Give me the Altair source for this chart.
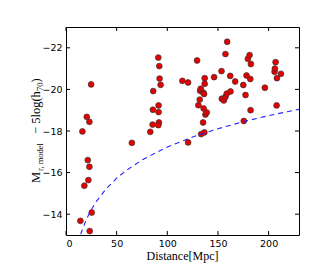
import altair as alt
import pandas as pd

# Galaxy sample: distance [Mpc] and absolute magnitude
distance = [14.2, 16.2, 18.1, 20.5, 21.5, 22.1, 23.1, 23.1, 23.4, 24.8, 25.4, 65.0,
            83.2, 85.5, 85.8, 86.1, 91.1, 92.1, 92.4, 93.4, 91.4, 91.4, 91.7, 91.1,
            114.9, 120.5, 120.5, 129.4, 130.7, 132.0, 132.4, 133.0, 133.4, 135.3,
            135.6, 136.3, 135.9, 136.6, 136.9, 136.9, 137.6, 138.9, 146.2, 153.5,
            153.8, 155.8, 157.4, 157.4, 158.7, 159.1, 162.1, 162.4, 167.0, 175.0,
            175.5, 177.2, 178.2, 179.5, 181.2, 181.9, 182.2, 182.5, 196.3, 205.9,
            206.2, 206.9, 207.9, 208.2, 212.2]
magnitude = [-13.68, -17.98, -15.37, -18.68, -16.60, -15.64, -18.44, -16.28, -13.19, -20.24, -14.08, -17.43,
             -17.96, -18.31, -19.02, -19.92, -21.53, -21.12, -20.52, -20.22, -19.23, -18.91, -18.41, -18.28,
             -20.41, -20.33, -17.45, -21.39, -19.24, -19.51, -19.93, -20.03, -17.85, -18.41,
             -19.84, -19.78, -19.08, -17.93, -20.54, -20.27, -18.79, -18.89, -20.59, -20.88,
             -19.55, -19.47, -19.64, -21.70, -19.80, -22.29, -20.65, -19.90, -20.38, -20.21,
             -18.48, -19.73, -20.67, -21.47, -21.65, -20.50, -19.00, -21.22, -20.08, -20.85,
             -21.00, -21.31, -19.23, -20.54, -20.75]

# Magnitude limit curve (dashed)
curve_distance = [14.5, 15, 20, 25, 30, 40, 50, 60, 75, 100, 125, 150, 175, 200, 230]
curve_magnitude = [-13.04, -13.11, -13.74, -14.22, -14.62, -15.24, -15.73, -16.12, -16.61,
                   -17.23, -17.71, -18.11, -18.45, -18.74, -19.04]

x_ticks = [0, 50, 100, 150, 200]
y_ticks = [-22, -20, -18, -16, -14]

W, H = 233, 208

pts = pd.DataFrame({"d": distance, "m": magnitude})
crv = pd.DataFrame({"d": curve_distance, "m": curve_magnitude})
xt = pd.DataFrame({"d": x_ticks})
yt = pd.DataFrame({"m": y_ticks})

xscale = alt.Scale(domain=[0, 230], nice=False, zero=False)
yscale = alt.Scale(domain=[-23, -13], nice=False, zero=False, reverse=True)

lab = dict(labelFont="DejaVu Sans", labelFontSize=9.5, labelColor="black",
           ticks=False, domain=False, grid=False, title=None)
xaxis = alt.Axis(values=x_ticks, labelPadding=3, **lab)
yaxis = alt.Axis(values=y_ticks, labelPadding=4, **lab)

X = alt.X("d:Q", scale=xscale, axis=xaxis)
Y = alt.Y("m:Q", scale=yscale, axis=yaxis)

points = alt.Chart(pts).mark_circle(size=34, color="#e80000", stroke="#333333",
                                    strokeWidth=0.7, opacity=1).encode(x=X, y=Y)

curve = alt.Chart(crv).mark_line(color="#2222ff", strokeWidth=1.1,
                                 strokeDash=[5, 4], clip=True).encode(x=X, y=Y)

tick_style = dict(color="black", strokeWidth=1)
xt_bot = alt.Chart(xt).mark_rule(**tick_style).encode(
    x=X, y=alt.value(H), y2=alt.value(H - 4))
xt_top = alt.Chart(xt).mark_rule(**tick_style).encode(
    x=X, y=alt.value(0), y2=alt.value(4))
yt_left = alt.Chart(yt).mark_rule(**tick_style).encode(
    y=Y, x=alt.value(0), x2=alt.value(4))
yt_right = alt.Chart(yt).mark_rule(**tick_style).encode(
    y=Y, x=alt.value(W), x2=alt.value(W - 4))

xtitle = alt.Chart(pd.DataFrame({"t": ["Distance[Mpc]"]})).mark_text(
    font="Liberation Serif", fontSize=12, color="black", align="center",
    baseline="alphabetic").encode(text="t:N", x=alt.value(W / 2), y=alt.value(233))

# y title pieces, rotated (reading bottom to top)
seg_text = ["M", "r, model", "\u2212 5log(h", "70", ")"]
seg_size = [12.5, 8.5, 12.5, 8.5, 12.5]
seg_start = [156, 144, 107, 64, 55.5]  # along-axis start (px from plot top)
seg_base = [-26, -23, -26, -23, -26]
ytitle_layers = []
for t, s, y0, xb in zip(seg_text, seg_size, seg_start, seg_base):
    ytitle_layers.append(
        alt.Chart(pd.DataFrame({"t": [t]})).mark_text(
            font="Liberation Serif", fontSize=s, color="black", align="left",
            baseline="alphabetic", angle=270).encode(
            text="t:N", x=alt.value(xb), y=alt.value(y0)))

chart = alt.layer(points, curve, xt_bot, xt_top, yt_left, yt_right, xtitle,
                  *ytitle_layers).properties(
    width=W, height=H, autosize=alt.AutoSizeParams(type="none"),
    padding={"left": 58, "top": 19, "right": 25, "bottom": 34},
).configure_view(stroke="black", strokeWidth=1)

chart.save("out.html", embed_options={"renderer": "svg", "actions": False})
